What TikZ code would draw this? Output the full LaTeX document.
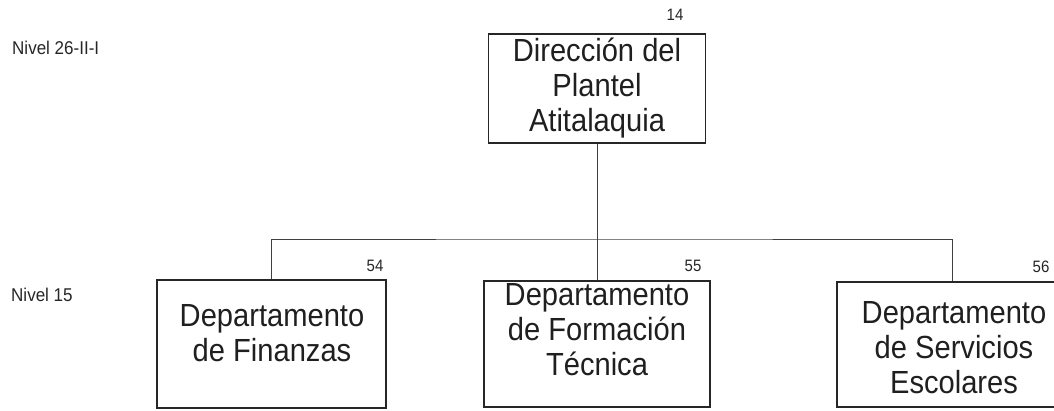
\documentclass[tikz,border=0pt]{standalone}
\usepackage{fontspec}
\setmainfont{Liberation Sans}
\begin{document}
\begin{tikzpicture}[x=1pt,y=-1pt,
  orgbox/.style={draw=black!85, line width=1.3pt, rectangle, inner sep=0pt},
  boxtext/.style={align=center, text=black!88, inner sep=0pt, font=\fontsize{32}{35}\selectfont\addfontfeature{FakeStretch=0.91}},
  numlbl/.style={text=black!85, inner sep=0pt, font=\fontsize{16.5}{18}\selectfont\addfontfeature{FakeStretch=0.91}},
  nivel/.style={text=black!85, inner sep=0pt, anchor=west, font=\fontsize{18.5}{20}\selectfont\addfontfeature{FakeStretch=0.92}},
  conn/.style={draw=black!75, line width=0.9pt}]
\useasboundingbox (0,0) rectangle (1054,410);
\clip (0,0) rectangle (1054,410);
% top box
\node[orgbox, boxtext, minimum width=217pt, minimum height=109pt] (top) at (597,88.5)
  {Dirección del\\Plantel\\Atitalaquia};
% lower boxes
\node[orgbox, minimum width=229pt, minimum height=128pt] (lb) at (271.5,344) {};
\node[orgbox, minimum width=226pt, minimum height=126pt] (mb) at (597,344) {};
\node[orgbox, minimum width=234pt, minimum height=125pt] (rb) at (954,344.5) {};
\node[boxtext] (lbt) at (272,333) {Departamento\\de Finanzas};
\node[boxtext] (mbt) at (597,330) {Departamento\\de Formación\\Técnica};
\node[boxtext] (rbt) at (954,348) {Departamento\\de Servicios\\Escolares};
% numbers
\node[numlbl] (n14) at (675,15) {14};
\node[numlbl] (n54) at (375,266) {54};
\node[numlbl] (n55) at (693,266) {55};
\node[numlbl] (n56) at (1041,267) {56};
% level labels
\node[nivel] (niv1) at (12,48) {Nivel 26-II-I};
\node[nivel] (niv2) at (11,295) {Nivel 15};
% connectors
\coordinate (bus) at (597,239);
\draw[conn] (top.south) -- (mb.north);
\draw[conn] (lb.north) |- (bus) -| ([xshift=-2pt]rb.north);
\end{tikzpicture}
\end{document}
